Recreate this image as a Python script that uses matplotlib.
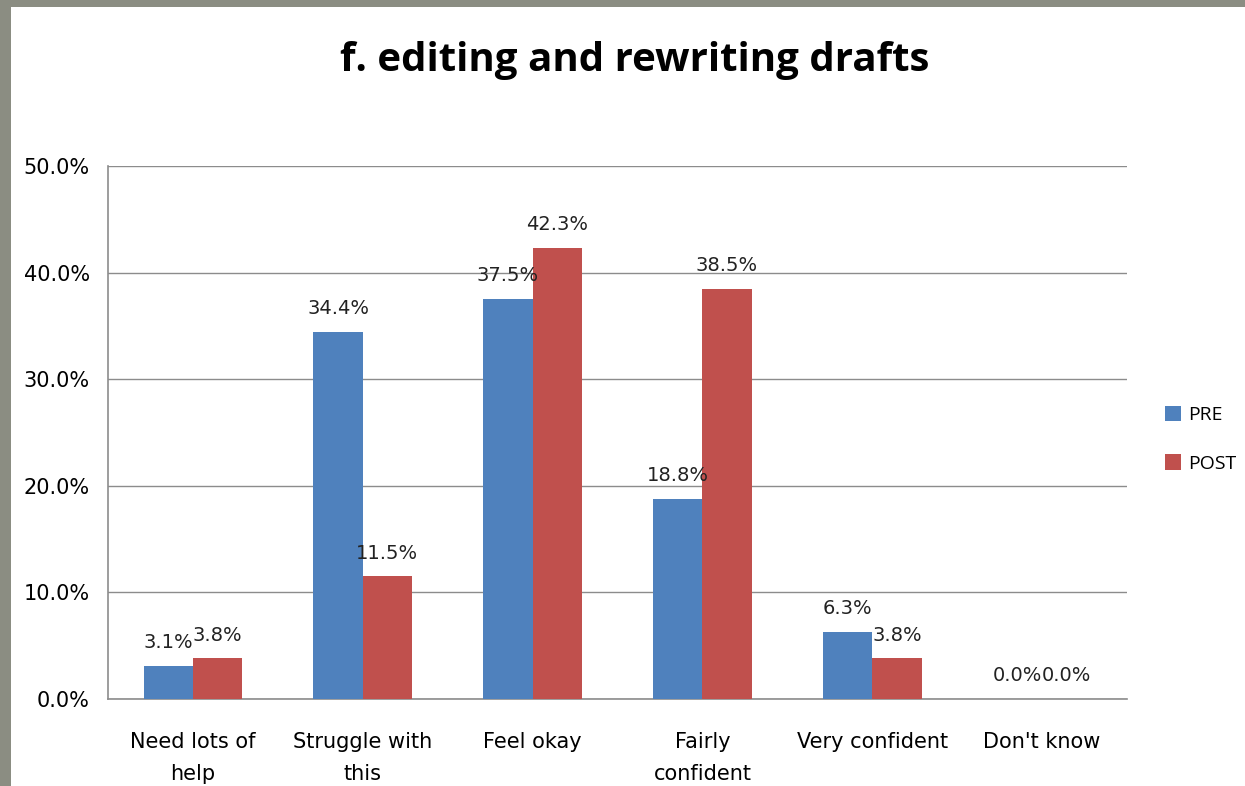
import numpy as np
import matplotlib
matplotlib.use("Agg")
import matplotlib.pyplot as plt
from matplotlib.patches import Rectangle
from matplotlib.ticker import FuncFormatter

categories = ["Need lots of\nhelp", "Struggle with\nthis", "Feel okay",
              "Fairly\nconfident", "Very confident", "Don't know"]
pre = [3.1, 34.4, 37.5, 18.8, 6.3, 0.0]
post = [3.8, 11.5, 42.3, 38.5, 3.8, 0.0]

blue = '#4F81BD'
red = '#C0504D'

fig = plt.figure(figsize=(12.45, 7.86), dpi=100)
fig.patch.set_facecolor('#8b8d82')
# white slide panel, behind everything
fig.patches.append(Rectangle((11 / 1245, 0), 1, 1 - 7 / 786, transform=fig.transFigure,
                             facecolor='white', edgecolor='none', zorder=-10))

ax = fig.add_axes([108 / 1245, 1 - 699 / 786, 1019 / 1245, (699 - 166) / 786])
ax.set_facecolor('none')

x = np.arange(len(categories))
w = 0.29
b1 = ax.bar(x - w / 2, pre, w, color=blue, label='PRE', zorder=3)
b2 = ax.bar(x + w / 2, post, w, color=red, label='POST', zorder=3)

for bars, vals in ((b1, pre), (b2, post)):
    for r, v in zip(bars, vals):
        ax.annotate(f"{v:.1f}%", (r.get_x() + r.get_width() / 2, v),
                    xytext=(0, 10), textcoords='offset points',
                    ha='center', va='bottom', fontsize=14, color='#222222')

ax.set_xlim(-0.5, len(categories) - 0.5)
ax.set_ylim(0, 50)
ax.set_yticks(np.arange(0, 51, 10))
ax.yaxis.set_major_formatter(FuncFormatter(lambda v, p: f"{v:.1f}%"))
ax.grid(axis='y', color='#8c8c8c', linewidth=1, zorder=0)
ax.set_xticks(x)
ax.set_xticklabels(categories, fontsize=15, linespacing=1.75)
ax.tick_params(axis='y', labelsize=15, length=0, pad=13)
ax.tick_params(axis='x', length=0, pad=24)
for s in ('top', 'right'):
    ax.spines[s].set_visible(False)
for s in ('left', 'bottom'):
    ax.spines[s].set_color('#8c8c8c')
    ax.spines[s].set_linewidth(1.2)

fig.text(0.51, 1 - 60 / 786, "f. editing and rewriting drafts", ha='center', va='center',
         fontsize=29, fontweight='bold', family='Open Sans')

ax.legend(loc='center left', bbox_to_anchor=(1.02, 0.487), frameon=False,
          prop={'family': 'Open Sans', 'size': 14}, handlelength=0.85, handleheight=0.85,
          labelspacing=1.55, handletextpad=0.35)

fig.savefig("out.png", dpi=100, facecolor=fig.get_facecolor())
